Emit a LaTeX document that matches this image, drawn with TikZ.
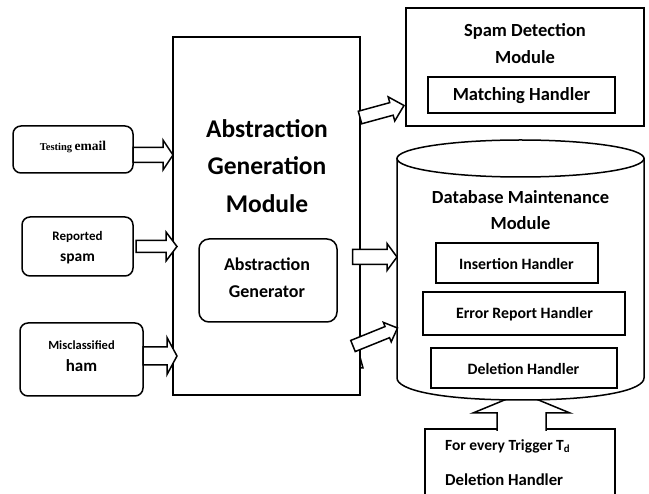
\documentclass[tikz,border=0pt]{standalone}
\usepackage{fontspec}
\setmainfont{Carlito}
\newfontfamily\serifb{Liberation Serif}
\usetikzlibrary{calc}
\tikzset{
  lw/.style={line width=1.5pt},
  box/.style={draw, lw, fill=white, inner sep=0pt},
  rbox/.style={box, rounded corners=8pt},
  txt/.style={inner sep=0pt, align=center},
  barrow/.style={draw, lw, fill=white, line join=miter},
}
\newcommand{\fs}[2]{\fontsize{#1}{#2}\selectfont}
% block arrow from #1 to #2, stem half width #3, head half width #4, head length #5
\newcommand{\blockarr}[5]{%
  \coordinate (ba-h) at ($(#2)!#5!(#1)$);
  \draw[barrow] ($(#1)!#3!90:(#2)$) -- ($(ba-h)!#3!-90:(#1)$) -- ($(ba-h)!#4!-90:(#1)$)
    -- (#2) -- ($(ba-h)!#4!90:(#1)$) -- ($(ba-h)!#3!90:(#1)$) -- ($(#1)!#3!-90:(#2)$) -- cycle;}
\begin{document}
\begin{tikzpicture}[x=1pt, y=-1pt]
\useasboundingbox (0,0) rectangle (649,494);
\clip (0,0) rectangle (649,494);

% left input boxes
\node[rbox, minimum width=120pt, minimum height=47pt] (test) at (73,149.5) {};
\node[txt, font=\serifb\bfseries\fs{10.5}{12}] (ttest) at (73,147) {Testing \fs{13.5}{14}email};
\node[rbox, minimum width=111pt, minimum height=59pt] (rep) at (77.5,246.5) {};
\node[txt, font=\bfseries\fs{13}{21}] (trep) at (77.5,247.5) {Reported\\\fs{15.5}{21}spam};
\node[rbox, minimum width=123pt, minimum height=73pt] (mis) at (81.5,359.5) {};
\node[txt, font=\bfseries\fs{12.5}{22}] (tmis) at (81.5,356) {Misclassified\\\fs{17}{22}ham};

% abstraction generation module
\node[box, minimum width=187pt, minimum height=358pt] (agm) at (266.5,216) {};
\node[txt, font=\bfseries\fs{25.5}{37.5}] (tagm) at (267,166) {Abstraction\\Generation\\Module};
\node[rbox, rounded corners=10pt, minimum width=138pt, minimum height=83pt] (ag) at (268,280.5) {};
\node[txt, font=\bfseries\fs{18}{27}] (tag) at (267,278) {Abstraction\\Generator};

% arrows into the module
\coordinate (a1s) at (133,155);   \coordinate (a1e) at (173,155);
\coordinate (a2s) at (136,246.5); \coordinate (a2e) at (177,246.5);
\coordinate (a3s) at (143,356);   \coordinate (a3e) at (177,356);
\blockarr{a1s}{a1e}{7.5pt}{15pt}{10pt}
\blockarr{a2s}{a2e}{6pt}{14.5pt}{11pt}
\blockarr{a3s}{a3e}{9pt}{18.5pt}{10pt}

% spam detection module
\node[box, minimum width=238pt, minimum height=118pt] (sdm) at (525,67) {};
\node[txt, font=\bfseries\fs{18.5}{27}] (tsdm) at (525,43.5) {Spam Detection\\Module};
\node[box, minimum width=187pt, minimum height=36pt] (mh) at (521.5,95) {};
\node[txt, font=\bfseries\fs{18.5}{20}] (tmh) at (521.5,96) {Matching Handler};

% arrow to spam detection
\coordinate (a4s) at (360,117.5); \coordinate (a4e) at (404,105.5);
\blockarr{a4s}{a4e}{6.5pt}{12.5pt}{13pt}

% bottom trigger box and upward arrow
\node[box, minimum width=190pt, minimum height=71pt] (trig) at (520,464.5) {};
\node[txt, anchor=west, font=\bfseries\fs{15.5}{18}] (ttrig) at (445,446) {For every Trigger T\textsubscript{d}};
\node[txt, anchor=west, font=\bfseries\fs{16.7}{18}] (tdel2) at (445,480) {Deletion Handler};
\coordinate (up1) at (497,431); \coordinate (up2) at (546,431);
\draw[barrow] (up1) -- (497,413) -- (473,413) -- (521.5,393) -- (570,413) -- (546,413) -- (up2);

% database maintenance cylinder
\coordinate (cyl) at (520.5,158.5);
\path[draw, lw, fill=white] (397,158.5) -- (397,378) .. controls (397,390) and (440,400) .. (520.5,400)
  .. controls (601,400) and (644,390) .. (644,378) -- (644,158.5) -- cycle;
\draw[lw, fill=white] (cyl) ellipse [x radius=123.5pt, y radius=18.5pt];
\node[txt, font=\bfseries\fs{18.5}{26}] (tdbm) at (520.5,210) {Database Maintenance\\Module};
\node[box, minimum width=162pt, minimum height=40pt] (ins) at (517,263) {};
\node[txt, font=\bfseries\fs{15.8}{18}] (tins) at (516.5,264) {Insertion Handler};
\node[box, minimum width=202pt, minimum height=43pt] (err) at (524,313.5) {};
\node[txt, font=\bfseries\fs{15.8}{18}] (terr) at (524.5,314) {Error Report Handler};
\node[box, minimum width=186pt, minimum height=40pt] (del) at (524,368) {};
\node[txt, font=\bfseries\fs{15.8}{18}] (tdel) at (523.5,369) {Deletion Handler};

% arrows to database
\coordinate (a5s) at (352.5,257); \coordinate (a5e) at (397,257);
\blockarr{a5s}{a5e}{7.5pt}{13.5pt}{10pt}
\coordinate (a6s) at (353,346); \coordinate (a6e) at (397.5,328);
\blockarr{a6s}{a6e}{6pt}{10.5pt}{11pt}
\draw[lw] (360,357) -- (363,368) -- (360,368);
\end{tikzpicture}
\end{document}
